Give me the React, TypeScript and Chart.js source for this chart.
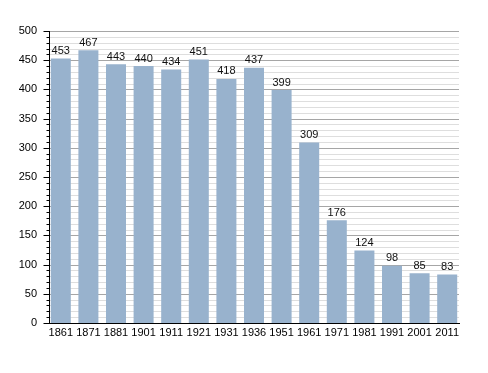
import React, { useEffect, useRef } from "react";
import { Chart, registerables } from "chart.js";
Chart.register(...registerables);

const years = ["1861","1871","1881","1901","1911","1921","1931","1936","1951","1961","1971","1981","1991","2001","2011"];
const population = [453,467,443,440,434,451,418,437,399,309,176,124,98,85,83];
const yMax = 500;
const yStep = 10;
const yLabelStep = 50;

const FONT = "Liberation Sans, Arial, sans-serif";
const AXIS_X = 49.5;
const GRID_RIGHT = 459;

const grid = {
  id: "customGrid",
  beforeDatasetsDraw(chart: any) {
    const ctx = chart.ctx;
    const y = chart.scales.y;
    ctx.save();
    ctx.lineWidth = 1;
    for (let v = 0; v <= yMax; v += yStep) {
      const py = Math.round(y.getPixelForValue(v)) + 0.5;
      ctx.strokeStyle = v % yLabelStep === 0 ? "#a6a6a6" : "#dedede";
      ctx.beginPath();
      ctx.moveTo(AXIS_X, py);
      ctx.lineTo(GRID_RIGHT, py);
      ctx.stroke();
    }
    ctx.restore();
  },
};

const overlay = {
  id: "overlay",
  afterDatasetsDraw(chart: any) {
    const ctx = chart.ctx;
    const y = chart.scales.y;
    ctx.save();
    ctx.strokeStyle = "#000";
    ctx.lineWidth = 1;
    for (let v = 0; v <= yMax; v += yStep) {
      const py = Math.round(y.getPixelForValue(v)) + 0.5;
      const len = v % yLabelStep === 0 ? 6 : 3;
      ctx.beginPath();
      ctx.moveTo(AXIS_X - len, py);
      ctx.lineTo(AXIS_X, py);
      ctx.stroke();
    }
    const y0 = Math.round(y.getPixelForValue(0)) + 0.5;
    ctx.beginPath();
    ctx.moveTo(AXIS_X, Math.round(y.getPixelForValue(yMax)));
    ctx.lineTo(AXIS_X, y0);
    ctx.stroke();
    ctx.beginPath();
    ctx.moveTo(AXIS_X - 0.5, y0);
    ctx.lineTo(GRID_RIGHT + 1, y0);
    ctx.stroke();
    ctx.fillStyle = "#111";
    ctx.font = "11px " + FONT;
    ctx.textAlign = "center";
    ctx.textBaseline = "bottom";
    const meta = chart.getDatasetMeta(0);
    meta.data.forEach((bar: any, i: number) => {
      ctx.fillText(String(population[i]), bar.x, bar.y - 2);
    });
    ctx.restore();
  },
};

export default function App() {
  const ref = useRef<HTMLCanvasElement>(null);
  useEffect(() => {
    if (!ref.current) return;
    const chart = new Chart(ref.current, {
      type: "bar",
      data: {
        labels: years,
        datasets: [{
          data: population,
          backgroundColor: "#98b2cd",
          borderWidth: 0,
          barPercentage: 0.725,
          categoryPercentage: 1,
        }],
      },
      options: {
        animation: false,
        responsive: false,
        maintainAspectRatio: false,
        layout: { padding: { top: 31, right: 27, left: 0, bottom: 0 } },
        plugins: { legend: { display: false }, tooltip: { enabled: false } },
        scales: {
          x: {
            grid: { display: false, drawTicks: false },
            border: { display: false },
            ticks: { color: "#000", font: { family: FONT, size: 11 }, padding: 3, maxRotation: 0, autoSkip: false },
            afterFit: (s: any) => { s.height = 50; },
          },
          y: {
            min: 0,
            max: yMax,
            grid: { display: false, drawTicks: false },
            border: { display: false },
            ticks: {
              stepSize: yStep,
              autoSkip: false,
              color: "#000",
              font: { family: FONT, size: 11 },
              padding: 10,
              callback: (v: any) => (Number(v) % yLabelStep === 0 ? String(v) : ""),
            },
            afterFit: (s: any) => { s.width = 47; },
          },
        },
      },
      plugins: [grid, overlay],
    });
    return () => chart.destroy();
  }, []);
  return (
    <div style={{ position: "fixed", left: 0, top: 0, width: 488, height: 373, background: "#fff" }}>
      <canvas ref={ref} width={488} height={373} />
    </div>
  );
}
